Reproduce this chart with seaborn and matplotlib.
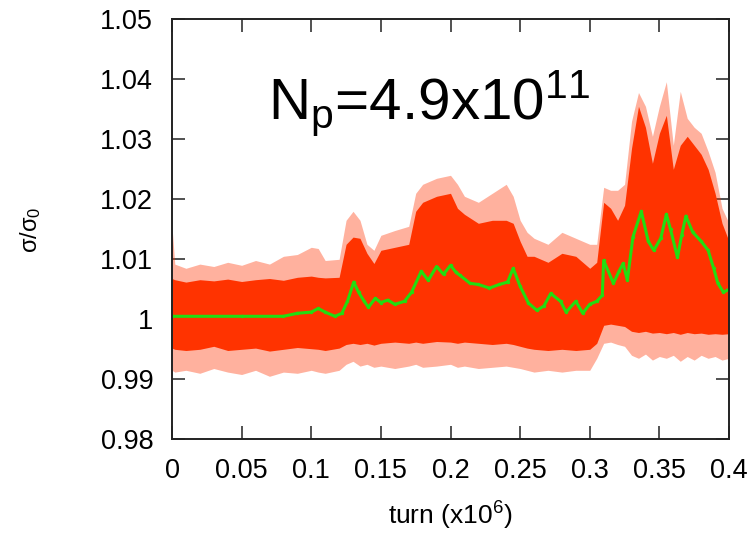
import matplotlib
matplotlib.use("Agg")
import matplotlib.pyplot as plt
import seaborn as sns
import pandas as pd

# ---------------- data ----------------
turn = [0.0, 0.002, 0.01, 0.02, 0.03, 0.04, 0.05, 0.06, 0.07, 0.08, 0.09, 0.10, 0.105,
        0.11, 0.12, 0.125, 0.13, 0.135, 0.14, 0.145, 0.15, 0.16, 0.17, 0.175, 0.18,
        0.19, 0.20, 0.205, 0.21, 0.22, 0.23, 0.24, 0.245, 0.25, 0.255, 0.26, 0.27,
        0.28, 0.29, 0.30, 0.305, 0.31, 0.315, 0.32, 0.325, 0.33, 0.335, 0.34, 0.345,
        0.35, 0.355, 0.36, 0.365, 0.37, 0.375, 0.38, 0.385, 0.39, 0.395, 0.40]

core_upper = [1.0068, 1.0066, 1.0062, 1.0066, 1.0064, 1.0067, 1.0063, 1.0066, 1.0068, 1.0065,
              1.0070, 1.0072, 1.0070, 1.0069, 1.0070, 1.0125, 1.0137, 1.0135, 1.0110, 1.0093,
              1.0115, 1.0120, 1.0125, 1.0180, 1.0195, 1.0205, 1.0210, 1.0185, 1.0175, 1.0160,
              1.0165, 1.0165, 1.0160, 1.0130, 1.0105, 1.0105, 1.0095, 1.0110, 1.0105, 1.0085,
              1.0095, 1.0195, 1.0185, 1.0165, 1.0190, 1.0285, 1.0355, 1.0320, 1.0260, 1.0310,
              1.0340, 1.0250, 1.0290, 1.0305, 1.0290, 1.0275, 1.0250, 1.0210, 1.0160, 1.0130]

spike_upper = [1.0155, 1.0092, 1.0085, 1.0092, 1.0088, 1.0095, 1.0090, 1.0098, 1.0092, 1.0105,
               1.0108, 1.0120, 1.0118, 1.0098, 1.0100, 1.0165, 1.0180, 1.0165, 1.0125, 1.0115,
               1.0140, 1.0148, 1.0155, 1.0210, 1.0225, 1.0235, 1.0240, 1.0225, 1.0205, 1.0195,
               1.0210, 1.0225, 1.0205, 1.0165, 1.0145, 1.0135, 1.0125, 1.0145, 1.0135, 1.0125,
               1.0125, 1.0220, 1.0215, 1.0215, 1.0225, 1.0330, 1.0378, 1.0355, 1.0305, 1.0355,
               1.0396, 1.0290, 1.0380, 1.0335, 1.0320, 1.0310, 1.0280, 1.0245, 1.0185, 1.0160]

core_lower = [0.9952, 0.9950, 0.9948, 0.9950, 0.9955, 0.9948, 0.9950, 0.9952, 0.9947, 0.9950,
              0.9953, 0.9951, 0.9950, 0.9948, 0.9952, 0.9958, 0.9960, 0.9958, 0.9960, 0.9957,
              0.9960, 0.9962, 0.9960, 0.9962, 0.9960, 0.9963, 0.9962, 0.9960, 0.9962, 0.9960,
              0.9958, 0.9960, 0.9958, 0.9955, 0.9952, 0.9950, 0.9948, 0.9950, 0.9948, 0.9950,
              0.9960, 0.9990, 0.9992, 0.9990, 0.9988, 0.9980, 0.9978, 0.9980, 0.9977, 0.9978,
              0.9976, 0.9978, 0.9975, 0.9978, 0.9976, 0.9977, 0.9975, 0.9976, 0.9975, 0.9976]

spike_lower = [0.9915, 0.9912, 0.9915, 0.9910, 0.9918, 0.9912, 0.9908, 0.9915, 0.9905, 0.9912,
               0.9910, 0.9915, 0.9912, 0.9910, 0.9915, 0.9925, 0.9930, 0.9922, 0.9925, 0.9920,
               0.9922, 0.9918, 0.9922, 0.9925, 0.9920, 0.9922, 0.9925, 0.9920, 0.9922, 0.9918,
               0.9920, 0.9922, 0.9920, 0.9918, 0.9915, 0.9912, 0.9915, 0.9912, 0.9915, 0.9915,
               0.9935, 0.9960, 0.9962, 0.9958, 0.9955, 0.9940, 0.9935, 0.9942, 0.9932, 0.9938,
               0.9935, 0.9940, 0.9930, 0.9938, 0.9932, 0.9940, 0.9935, 0.9938, 0.9932, 0.9935]

mean_turn = [0.0, 0.05, 0.08, 0.09, 0.10, 0.105, 0.11, 0.117, 0.122, 0.126, 0.1305, 0.134,
             0.138, 0.141, 0.146, 0.15, 0.155, 0.16, 0.167, 0.172, 0.179, 0.184, 0.19,
             0.195, 0.20, 0.204, 0.207, 0.214, 0.22, 0.228, 0.235, 0.241, 0.245, 0.25,
             0.256, 0.262, 0.267, 0.272, 0.279, 0.283, 0.29, 0.295, 0.30, 0.305, 0.309,
             0.31, 0.317, 0.321, 0.324, 0.327, 0.331, 0.337, 0.342, 0.346, 0.351, 0.355,
             0.358, 0.363, 0.366, 0.369, 0.374, 0.380, 0.385, 0.389, 0.392, 0.396, 0.40]
mean_sigma = [1.0005, 1.0005, 1.0005, 1.0010, 1.0012, 1.0018, 1.0012, 1.0005, 1.0010, 1.0030,
              1.0062, 1.0045, 1.0030, 1.0020, 1.0035, 1.0028, 1.0032, 1.0025, 1.0030, 1.0045,
              1.0080, 1.0065, 1.0088, 1.0075, 1.0090, 1.0078, 1.0073, 1.0060, 1.0058, 1.0052,
              1.0058, 1.0062, 1.0085, 1.0055, 1.0027, 1.0015, 1.0022, 1.0043, 1.0030, 1.0012,
              1.0030, 1.0010, 1.0025, 1.0030, 1.0040, 1.0098, 1.0060, 1.0080, 1.0093, 1.0065,
              1.0137, 1.0180, 1.0130, 1.0115, 1.0135, 1.0175, 1.0150, 1.0103, 1.0140, 1.0172,
              1.0145, 1.0130, 1.0115, 1.0085, 1.0060, 1.0045, 1.0050]

x_ticks = [0, 0.05, 0.1, 0.15, 0.2, 0.25, 0.3, 0.35, 0.4]
x_tick_labels = ["0", "0.05", "0.1", "0.15", "0.2", "0.25", "0.3", "0.35", "0.4"]
y_ticks = [0.98, 0.99, 1.0, 1.01, 1.02, 1.03, 1.04, 1.05]
y_tick_labels = ["0.98", "0.99", "1", "1.01", "1.02", "1.03", "1.04", "1.05"]

# ---------------- style ----------------
sns.set_theme(style="ticks")
plt.rcParams["font.family"] = ["Liberation Sans", "DejaVu Sans"]
plt.rcParams["mathtext.fontset"] = "custom"
plt.rcParams["mathtext.rm"] = "Liberation Sans"
plt.rcParams["mathtext.it"] = "Liberation Sans:italic"
plt.rcParams["mathtext.default"] = "rm"

RED = "#ff3300"
GREEN = "#22dd11"

band = pd.DataFrame({"turn": turn, "core_upper": core_upper, "core_lower": core_lower,
                     "spike_upper": spike_upper, "spike_lower": spike_lower})
mean_df = pd.DataFrame({"turn": mean_turn, "sigma": mean_sigma})

fig = plt.figure(figsize=(7.53, 5.35), dpi=100)
ax = fig.add_axes([172 / 753, (535 - 439.3) / 535, 557 / 753, 420 / 535])

# light spikes
ax.fill_between(band["turn"], band["spike_lower"], band["spike_upper"],
                color=RED, alpha=0.38, linewidth=0)
# dense core
ax.fill_between(band["turn"], band["core_lower"], band["core_upper"],
                color=RED, alpha=1.0, linewidth=0)

# mean
sns.lineplot(data=mean_df, x="turn", y="sigma", ax=ax, color=GREEN, linewidth=2.2,
             marker="o", markersize=2.5, markeredgewidth=0, estimator=None, sort=False)

ax.set_xlim(0, 0.4)
ax.set_ylim(0.98, 1.05)
ax.set_xticks(x_ticks)
ax.set_xticklabels(x_tick_labels)
ax.set_yticks(y_ticks)
ax.set_yticklabels(y_tick_labels)

ax.tick_params(axis="both", which="both", direction="in", length=9.5, width=1.1,
               color="#222222", labelsize=19.5, labelcolor="black", pad=13.5,
               top=True, right=True)
for s in ax.spines.values():
    s.set_visible(True)
    s.set_linewidth(1.4)
    s.set_color("#222222")

ax.set_xlabel(r"turn (x10$^{6}$)", fontsize=19, color="black")
ax.xaxis.set_label_coords(0.5, -0.145)
ax.xaxis.label.set_verticalalignment("top")
ax.set_ylabel(r"$\sigma/\sigma_0$", fontsize=17, color="black")
ax.yaxis.set_label_coords(-0.232, 0.5)

ax.text(0.069, 1.0334, r"N$_\mathrm{p}$=4.9x10$^{11}$", fontsize=42,
        color="black", va="baseline", ha="left")

ax.grid(False)
ax.set_facecolor("white")
fig.patch.set_facecolor("white")
fig.savefig("out.png", dpi=100)
